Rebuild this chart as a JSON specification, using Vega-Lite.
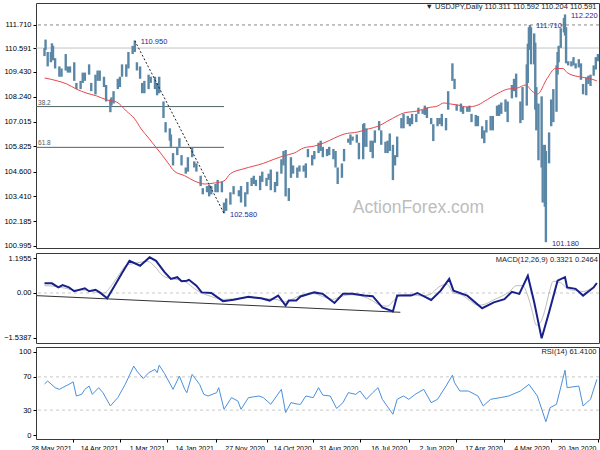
{
  "$schema": "https://vega.github.io/schema/vega-lite/v6.json",
  "autosize": {"type": "pad"},
  "padding": {"left": 3, "top": 2, "right": 2, "bottom": 2},
  "background": "white",
  "spacing": 2,
  "config": {
    "view": {"stroke": "#3a3a3a", "strokeWidth": 1},
    "axis": {"labelFont": "Liberation Sans", "labelFontSize": 7.5, "labelColor": "#000", "tickSize": 3, "tickColor": "#000", "domain": false, "grid": false, "title": null, "labelOverlap": false, "labelFlush": false, "labelPadding": 2},
    "title": {"font": "Liberation Sans", "fontSize": 7.5, "fontWeight": "normal", "color": "#222", "anchor": "end"}
  },
  "datasets": {
    "price": [
      {"d":"2020-01-20","h":110.30,"l":109.95},{"d":"2020-01-22","h":110.15,"l":109.55},{"d":"2020-01-24","h":109.75,"l":109.25},{"d":"2020-01-27","h":109.30,"l":108.75},{"d":"2020-01-29","h":109.25,"l":108.85},{"d":"2020-01-31","h":109.15,"l":108.30},
      {"d":"2020-02-03","h":108.85,"l":108.35},{"d":"2020-02-05","h":109.85,"l":109.05},{"d":"2020-02-07","h":110.05,"l":109.65},{"d":"2020-02-10","h":109.85,"l":109.60},{"d":"2020-02-12","h":110.15,"l":109.75},{"d":"2020-02-14","h":109.95,"l":109.70},{"d":"2020-02-17","h":109.95,"l":109.75},{"d":"2020-02-19","h":111.60,"l":109.85},{"d":"2020-02-20","h":112.22,"l":111.20},{"d":"2020-02-21","h":112.05,"l":111.35},{"d":"2020-02-24","h":111.55,"l":110.60},{"d":"2020-02-26","h":110.70,"l":109.90},{"d":"2020-02-27","h":110.40,"l":109.30},{"d":"2020-02-28","h":109.75,"l":107.50},
      {"d":"2020-03-02","h":108.60,"l":107.00},{"d":"2020-03-04","h":108.10,"l":106.80},{"d":"2020-03-06","h":106.50,"l":105.00},{"d":"2020-03-09","h":105.60,"l":101.18},{"d":"2020-03-10","h":105.90,"l":102.90},{"d":"2020-03-12","h":105.90,"l":103.10},{"d":"2020-03-13","h":108.25,"l":104.80},{"d":"2020-03-16","h":107.90,"l":105.15},{"d":"2020-03-18","h":108.70,"l":106.60},{"d":"2020-03-19","h":110.85,"l":107.60},{"d":"2020-03-20","h":111.30,"l":109.80},{"d":"2020-03-23","h":111.60,"l":109.80},{"d":"2020-03-24","h":111.71,"l":110.70},{"d":"2020-03-25","h":111.60,"l":110.50},{"d":"2020-03-26","h":110.80,"l":108.90},{"d":"2020-03-27","h":109.80,"l":107.80},{"d":"2020-03-31","h":108.70,"l":107.10},
      {"d":"2020-04-02","h":108.00,"l":106.95},{"d":"2020-04-06","h":109.35,"l":108.20},{"d":"2020-04-08","h":109.10,"l":108.50},{"d":"2020-04-10","h":108.80,"l":108.15},{"d":"2020-04-14","h":108.00,"l":107.00},{"d":"2020-04-16","h":108.10,"l":107.50},{"d":"2020-04-20","h":107.95,"l":107.40},{"d":"2020-04-22","h":107.85,"l":107.30},{"d":"2020-04-24","h":107.80,"l":107.30},{"d":"2020-04-28","h":107.30,"l":106.60},{"d":"2020-04-30","h":107.30,"l":106.60},
      {"d":"2020-05-04","h":107.10,"l":106.50},{"d":"2020-05-06","h":106.60,"l":105.98},{"d":"2020-05-08","h":106.80,"l":106.20},{"d":"2020-05-12","h":107.30,"l":106.80},{"d":"2020-05-14","h":107.35,"l":106.80},{"d":"2020-05-18","h":107.40,"l":107.00},{"d":"2020-05-20","h":107.80,"l":107.50},{"d":"2020-05-22","h":107.75,"l":107.50},{"d":"2020-05-26","h":107.75,"l":107.40},{"d":"2020-05-28","h":107.90,"l":107.50},
      {"d":"2020-06-01","h":107.85,"l":107.55},{"d":"2020-06-03","h":109.10,"l":108.60},{"d":"2020-06-05","h":109.85,"l":109.00},{"d":"2020-06-09","h":108.50,"l":107.60},{"d":"2020-06-11","h":107.20,"l":106.60},{"d":"2020-06-15","h":107.40,"l":106.80},{"d":"2020-06-17","h":107.20,"l":106.90},{"d":"2020-06-19","h":107.20,"l":106.80},{"d":"2020-06-23","h":106.90,"l":106.08},{"d":"2020-06-25","h":107.20,"l":106.90},{"d":"2020-06-29","h":107.70,"l":107.20},
      {"d":"2020-07-01","h":107.80,"l":107.35},{"d":"2020-07-03","h":107.60,"l":107.40},{"d":"2020-07-07","h":107.70,"l":107.40},{"d":"2020-07-09","h":107.40,"l":107.00},{"d":"2020-07-13","h":107.40,"l":106.90},{"d":"2020-07-15","h":107.20,"l":106.80},{"d":"2020-07-17","h":107.30,"l":106.90},{"d":"2020-07-21","h":107.40,"l":106.70},{"d":"2020-07-23","h":107.20,"l":106.70},{"d":"2020-07-27","h":106.30,"l":105.30},{"d":"2020-07-29","h":105.40,"l":104.90},{"d":"2020-07-31","h":105.90,"l":104.19},
      {"d":"2020-08-03","h":106.45,"l":105.60},{"d":"2020-08-05","h":106.10,"l":105.50},{"d":"2020-08-07","h":106.05,"l":105.50},{"d":"2020-08-11","h":106.60,"l":105.90},{"d":"2020-08-13","h":107.05,"l":106.60},{"d":"2020-08-17","h":106.60,"l":106.00},{"d":"2020-08-19","h":106.10,"l":105.25},{"d":"2020-08-21","h":106.10,"l":105.55},{"d":"2020-08-25","h":106.70,"l":105.80},{"d":"2020-08-27","h":106.95,"l":105.80},{"d":"2020-08-28","h":106.90,"l":105.20},
      {"d":"2020-09-01","h":106.00,"l":105.20},{"d":"2020-09-03","h":106.40,"l":106.00},{"d":"2020-09-07","h":106.30,"l":106.10},{"d":"2020-09-09","h":106.40,"l":105.90},{"d":"2020-09-11","h":106.20,"l":106.00},{"d":"2020-09-15","h":105.70,"l":105.10},{"d":"2020-09-17","h":105.00,"l":104.30},{"d":"2020-09-21","h":104.80,"l":104.00},{"d":"2020-09-23","h":105.60,"l":104.80},{"d":"2020-09-25","h":105.70,"l":105.20},{"d":"2020-09-29","h":105.80,"l":105.40},
      {"d":"2020-10-01","h":105.70,"l":105.35},{"d":"2020-10-05","h":105.80,"l":105.30},{"d":"2020-10-07","h":106.10,"l":105.60},{"d":"2020-10-09","h":106.00,"l":105.50},{"d":"2020-10-13","h":105.60,"l":105.20},{"d":"2020-10-15","h":105.40,"l":104.90},{"d":"2020-10-19","h":105.70,"l":105.30},{"d":"2020-10-21","h":105.00,"l":104.30},{"d":"2020-10-23","h":104.90,"l":104.60},{"d":"2020-10-27","h":104.90,"l":104.60},{"d":"2020-10-29","h":104.80,"l":104.30},
      {"d":"2020-11-02","h":104.90,"l":104.50},{"d":"2020-11-04","h":105.30,"l":104.30},{"d":"2020-11-06","h":103.80,"l":103.18},{"d":"2020-11-09","h":105.65,"l":103.40},{"d":"2020-11-11","h":105.60,"l":104.90},{"d":"2020-11-13","h":105.20,"l":104.50},{"d":"2020-11-17","h":104.60,"l":103.90},{"d":"2020-11-19","h":104.10,"l":103.60},{"d":"2020-11-23","h":104.70,"l":103.70},{"d":"2020-11-25","h":104.50,"l":104.20},{"d":"2020-11-27","h":104.30,"l":103.90},
      {"d":"2020-12-01","h":104.60,"l":104.10},{"d":"2020-12-03","h":104.40,"l":103.70},{"d":"2020-12-07","h":104.20,"l":103.90},{"d":"2020-12-09","h":104.40,"l":104.00},{"d":"2020-12-11","h":104.30,"l":103.90},{"d":"2020-12-15","h":104.10,"l":103.50},{"d":"2020-12-17","h":103.60,"l":102.90},{"d":"2020-12-21","h":103.90,"l":103.10},{"d":"2020-12-23","h":103.70,"l":103.40},{"d":"2020-12-28","h":103.90,"l":103.50},{"d":"2020-12-31","h":103.60,"l":103.00},
      {"d":"2021-01-04","h":103.30,"l":102.70},{"d":"2021-01-06","h":103.10,"l":102.58},{"d":"2021-01-08","h":104.10,"l":103.60},{"d":"2021-01-12","h":104.20,"l":103.60},{"d":"2021-01-14","h":104.00,"l":103.60},{"d":"2021-01-18","h":103.90,"l":103.50},{"d":"2021-01-20","h":103.95,"l":103.40},{"d":"2021-01-22","h":103.90,"l":103.60},{"d":"2021-01-26","h":103.80,"l":103.50},{"d":"2021-01-28","h":104.40,"l":103.90},
      {"d":"2021-02-01","h":105.00,"l":104.60},{"d":"2021-02-03","h":105.10,"l":104.80},{"d":"2021-02-05","h":105.77,"l":105.30},{"d":"2021-02-09","h":105.30,"l":104.60},{"d":"2021-02-11","h":104.80,"l":104.50},{"d":"2021-02-15","h":105.40,"l":104.90},{"d":"2021-02-17","h":106.22,"l":105.80},{"d":"2021-02-19","h":105.80,"l":105.40},{"d":"2021-02-23","h":105.50,"l":104.90},{"d":"2021-02-25","h":106.40,"l":105.80},{"d":"2021-02-26","h":106.70,"l":106.10},
      {"d":"2021-03-02","h":107.00,"l":106.50},{"d":"2021-03-04","h":108.00,"l":107.20},{"d":"2021-03-08","h":109.20,"l":108.40},{"d":"2021-03-10","h":108.90,"l":108.30},{"d":"2021-03-12","h":109.20,"l":108.60},{"d":"2021-03-16","h":109.20,"l":108.90},{"d":"2021-03-18","h":109.30,"l":108.60},{"d":"2021-03-22","h":109.00,"l":108.40},{"d":"2021-03-24","h":108.90,"l":108.40},{"d":"2021-03-26","h":109.70,"l":109.10},{"d":"2021-03-29","h":109.90,"l":109.50},{"d":"2021-03-31","h":110.95,"l":110.40},
      {"d":"2021-04-02","h":110.70,"l":110.30},{"d":"2021-04-06","h":110.40,"l":109.60},{"d":"2021-04-08","h":109.80,"l":109.20},{"d":"2021-04-12","h":109.80,"l":109.20},{"d":"2021-04-14","h":109.20,"l":108.70},{"d":"2021-04-16","h":109.10,"l":108.60},{"d":"2021-04-20","h":108.50,"l":107.90},{"d":"2021-04-22","h":108.20,"l":107.80},{"d":"2021-04-23","h":108.10,"l":107.48},{"d":"2021-04-27","h":108.80,"l":108.00},{"d":"2021-04-29","h":109.20,"l":108.70},
      {"d":"2021-05-03","h":109.50,"l":109.00},{"d":"2021-05-05","h":109.50,"l":109.00},{"d":"2021-05-07","h":109.30,"l":108.34},{"d":"2021-05-11","h":108.90,"l":108.50},{"d":"2021-05-13","h":109.80,"l":109.30},{"d":"2021-05-17","h":109.40,"l":109.00},{"d":"2021-05-19","h":109.40,"l":108.90},{"d":"2021-05-21","h":109.00,"l":108.60},{"d":"2021-05-25","h":108.90,"l":108.60},{"d":"2021-05-27","h":109.90,"l":109.00},{"d":"2021-05-31","h":109.70,"l":109.40},
      {"d":"2021-06-02","h":109.70,"l":109.40},{"d":"2021-06-04","h":110.30,"l":109.50},{"d":"2021-06-08","h":109.60,"l":109.20},{"d":"2021-06-10","h":109.70,"l":109.20},{"d":"2021-06-14","h":110.10,"l":109.60},{"d":"2021-06-16","h":110.70,"l":110.00},{"d":"2021-06-17","h":110.82,"l":110.00},{"d":"2021-06-18","h":110.40,"l":109.90},{"d":"2021-06-21","h":110.40,"l":109.70},{"d":"2021-06-23","h":111.00,"l":110.50},{"d":"2021-06-24","h":110.59,"l":110.20}
    ],
    "ma": [
      {"d":"2020-01-21","v":109.0},{"d":"2020-01-30","v":109.14},{"d":"2020-02-07","v":109.2},{"d":"2020-02-18","v":109.4},{"d":"2020-02-22","v":109.6},{"d":"2020-02-29","v":109.6},{"d":"2020-03-08","v":109.1},{"d":"2020-03-17","v":108.36},{"d":"2020-03-22","v":108.5},{"d":"2020-03-28","v":108.8},{"d":"2020-04-05","v":108.65},{"d":"2020-04-14","v":108.6},{"d":"2020-04-23","v":108.4},{"d":"2020-05-03","v":108.1},{"d":"2020-05-12","v":107.83},{"d":"2020-05-22","v":107.73},{"d":"2020-05-31","v":107.83},{"d":"2020-06-07","v":107.88},{"d":"2020-06-13","v":107.93},{"d":"2020-06-19","v":107.78},{"d":"2020-06-28","v":107.7},{"d":"2020-07-08","v":107.54},{"d":"2020-07-21","v":107.44},{"d":"2020-07-27","v":107.3},{"d":"2020-08-05","v":107.05},{"d":"2020-08-14","v":106.8},{"d":"2020-08-23","v":106.67},{"d":"2020-09-02","v":106.52},{"d":"2020-09-15","v":106.42},{"d":"2020-09-24","v":106.23},{"d":"2020-10-04","v":105.99},{"d":"2020-10-13","v":105.84},{"d":"2020-10-23","v":105.75},{"d":"2020-11-01","v":105.5},{"d":"2020-11-11","v":105.36},{"d":"2020-11-20","v":105.2},{"d":"2020-11-30","v":105.0},{"d":"2020-12-09","v":104.87},{"d":"2020-12-19","v":104.73},{"d":"2020-12-31","v":104.5},{"d":"2021-01-06","v":104.15},{"d":"2021-01-15","v":104.05},{"d":"2021-01-24","v":104.0},{"d":"2021-02-03","v":104.15},{"d":"2021-02-12","v":104.4},{"d":"2021-02-22","v":104.63},{"d":"2021-02-27","v":104.97},{"d":"2021-03-06","v":105.45},{"d":"2021-03-12","v":105.84},{"d":"2021-03-18","v":106.23},{"d":"2021-03-25","v":106.67},{"d":"2021-03-31","v":107.15},{"d":"2021-04-08","v":107.54},{"d":"2021-04-17","v":107.97},{"d":"2021-04-26","v":108.07},{"d":"2021-05-06","v":108.27},{"d":"2021-05-15","v":108.4},{"d":"2021-05-25","v":108.6},{"d":"2021-06-03","v":108.85},{"d":"2021-06-12","v":109.0},{"d":"2021-06-24","v":109.14}
    ],
    "macd": [
      {"d":"2020-01-21","m":0.34},{"d":"2020-01-24","m":0.19},{"d":"2020-02-03","m":-0.09},{"d":"2020-02-10","m":0.14},{"d":"2020-02-18","m":0.19},{"d":"2020-02-20","m":0.54},{"d":"2020-02-27","m":0.42},{"d":"2020-03-06","m":-0.66},{"d":"2020-03-13","m":-1.55},{"d":"2020-03-20","m":-0.32},{"d":"2020-03-26","m":0.59},{"d":"2020-04-03","m":-0.03},{"d":"2020-04-10","m":0.04},{"d":"2020-04-17","m":-0.21},{"d":"2020-04-27","m":-0.32},{"d":"2020-05-08","m":-0.52},{"d":"2020-05-22","m":-0.09},{"d":"2020-06-04","m":0.08},{"d":"2020-06-08","m":0.48},{"d":"2020-06-16","m":0.08},{"d":"2020-06-25","m":-0.24},{"d":"2020-07-08","m":0.0},{"d":"2020-07-14","m":-0.09},{"d":"2020-07-27","m":-0.09},{"d":"2020-07-31","m":-0.63},{"d":"2020-08-10","m":-0.49},{"d":"2020-08-19","m":-0.11},{"d":"2020-08-27","m":-0.09},{"d":"2020-09-07","m":-0.03},{"d":"2020-09-16","m":-0.03},{"d":"2020-09-24","m":-0.34},{"d":"2020-10-05","m":-0.03},{"d":"2020-10-13","m":0.02},{"d":"2020-10-26","m":-0.12},{"d":"2020-10-30","m":-0.26},{"d":"2020-11-06","m":-0.26},{"d":"2020-11-09","m":-0.43},{"d":"2020-11-16","m":-0.09},{"d":"2020-11-24","m":-0.26},{"d":"2020-12-02","m":-0.18},{"d":"2020-12-14","m":-0.13},{"d":"2020-12-28","m":-0.23},{"d":"2021-01-07","m":-0.28},{"d":"2021-01-18","m":0.0},{"d":"2021-01-27","m":0.02},{"d":"2021-02-01","m":0.25},{"d":"2021-02-08","m":0.45},{"d":"2021-02-10","m":0.42},{"d":"2021-02-15","m":0.40},{"d":"2021-02-19","m":0.54},{"d":"2021-02-25","m":0.48},{"d":"2021-03-03","m":0.71},{"d":"2021-03-11","m":1.10},{"d":"2021-03-17","m":1.22},{"d":"2021-03-26","m":0.93},{"d":"2021-04-05","m":1.10},{"d":"2021-04-12","m":0.68},{"d":"2021-04-19","m":0.25},{"d":"2021-04-26","m":-0.18},{"d":"2021-05-03","m":0.02},{"d":"2021-05-07","m":0.11},{"d":"2021-05-13","m":0.06},{"d":"2021-05-17","m":0.16},{"d":"2021-05-27","m":0.06},{"d":"2021-06-01","m":0.19},{"d":"2021-06-07","m":0.27},{"d":"2021-06-11","m":0.19},{"d":"2021-06-17","m":0.33},{"d":"2021-06-24","m":0.33}
    ],
    "signal": [
      {"d":"2020-01-21","s":0.30},{"d":"2020-01-27","s":0.15},{"d":"2020-02-03","s":0.05},{"d":"2020-02-10","s":0.08},{"d":"2020-02-18","s":0.15},{"d":"2020-02-24","s":0.35},{"d":"2020-03-02","s":0.40},{"d":"2020-03-06","s":0.0},{"d":"2020-03-10","s":-0.6},{"d":"2020-03-14","s":-1.0},{"d":"2020-03-18","s":-1.1},{"d":"2020-03-22","s":-0.6},{"d":"2020-03-26","s":-0.1},{"d":"2020-03-31","s":0.25},{"d":"2020-04-06","s":0.25},{"d":"2020-04-12","s":0.05},{"d":"2020-04-20","s":-0.12},{"d":"2020-04-28","s":-0.25},{"d":"2020-05-05","s":-0.38},{"d":"2020-05-12","s":-0.42},{"d":"2020-05-20","s":-0.25},{"d":"2020-05-28","s":-0.05},{"d":"2020-06-04","s":0.0},{"d":"2020-06-10","s":0.30},{"d":"2020-06-18","s":0.20},{"d":"2020-06-26","s":-0.05},{"d":"2020-07-05","s":-0.1},{"d":"2020-07-14","s":-0.05},{"d":"2020-07-22","s":-0.06},{"d":"2020-07-30","s":-0.25},{"d":"2020-08-05","s":-0.45},{"d":"2020-08-12","s":-0.42},{"d":"2020-08-20","s":-0.25},{"d":"2020-08-28","s":-0.12},{"d":"2020-09-08","s":-0.06},{"d":"2020-09-18","s":-0.12},{"d":"2020-09-26","s":-0.22},{"d":"2020-10-05","s":-0.12},{"d":"2020-10-14","s":-0.02},{"d":"2020-10-26","s":-0.08},{"d":"2020-11-02","s":-0.2},{"d":"2020-11-10","s":-0.3},{"d":"2020-11-18","s":-0.22},{"d":"2020-11-26","s":-0.2},{"d":"2020-12-05","s":-0.18},{"d":"2020-12-16","s":-0.16},{"d":"2020-12-28","s":-0.2},{"d":"2021-01-08","s":-0.22},{"d":"2021-01-18","s":-0.12},{"d":"2021-01-27","s":0.0},{"d":"2021-02-03","s":0.15},{"d":"2021-02-10","s":0.35},{"d":"2021-02-18","s":0.45},{"d":"2021-02-26","s":0.50},{"d":"2021-03-05","s":0.60},{"d":"2021-03-12","s":0.90},{"d":"2021-03-19","s":1.08},{"d":"2021-03-26","s":1.05},{"d":"2021-04-02","s":1.0},{"d":"2021-04-08","s":0.95},{"d":"2021-04-15","s":0.62},{"d":"2021-04-22","s":0.25},{"d":"2021-04-29","s":0.0},{"d":"2021-05-06","s":0.02},{"d":"2021-05-13","s":0.08},{"d":"2021-05-20","s":0.10},{"d":"2021-05-27","s":0.10},{"d":"2021-06-03","s":0.15},{"d":"2021-06-10","s":0.20},{"d":"2021-06-17","s":0.24},{"d":"2021-06-24","s":0.25}
    ],
    "rsi": [
      {"d":"2020-01-21","r":67},{"d":"2020-01-27","r":43},{"d":"2020-02-03","r":35},{"d":"2020-02-07","r":59},{"d":"2020-02-18","r":57},{"d":"2020-02-20","r":78},{"d":"2020-02-28","r":37},{"d":"2020-03-05","r":33},{"d":"2020-03-09","r":16},{"d":"2020-03-17","r":47},{"d":"2020-03-25","r":61},{"d":"2020-04-02","r":53},{"d":"2020-04-13","r":47},{"d":"2020-04-21","r":45},{"d":"2020-04-30","r":43},{"d":"2020-05-07","r":35},{"d":"2020-05-12","r":47},{"d":"2020-05-21","r":53},{"d":"2020-05-29","r":53},{"d":"2020-06-03","r":63},{"d":"2020-06-05","r":72},{"d":"2020-06-11","r":59},{"d":"2020-06-19","r":43},{"d":"2020-06-25","r":39},{"d":"2020-07-02","r":55},{"d":"2020-07-10","r":49},{"d":"2020-07-16","r":43},{"d":"2020-07-21","r":47},{"d":"2020-07-27","r":43},{"d":"2020-07-31","r":25},{"d":"2020-08-10","r":43},{"d":"2020-08-14","r":57},{"d":"2020-08-19","r":51},{"d":"2020-08-25","r":43},{"d":"2020-08-31","r":53},{"d":"2020-09-04","r":49},{"d":"2020-09-11","r":51},{"d":"2020-09-16","r":39},{"d":"2020-09-22","r":32},{"d":"2020-09-28","r":47},{"d":"2020-10-05","r":48},{"d":"2020-10-09","r":57},{"d":"2020-10-14","r":45},{"d":"2020-10-21","r":47},{"d":"2020-10-26","r":37},{"d":"2020-10-28","r":37},{"d":"2020-11-04","r":39},{"d":"2020-11-09","r":27},{"d":"2020-11-13","r":55},{"d":"2020-11-23","r":37},{"d":"2020-11-30","r":45},{"d":"2020-12-04","r":47},{"d":"2020-12-14","r":45},{"d":"2020-12-21","r":31},{"d":"2020-12-24","r":41},{"d":"2020-12-30","r":45},{"d":"2021-01-06","r":31},{"d":"2021-01-11","r":57},{"d":"2021-01-13","r":51},{"d":"2021-01-21","r":47},{"d":"2021-01-25","r":49},{"d":"2021-01-29","r":61},{"d":"2021-02-05","r":73},{"d":"2021-02-10","r":51},{"d":"2021-02-12","r":55},{"d":"2021-02-17","r":71},{"d":"2021-02-23","r":55},{"d":"2021-03-03","r":74},{"d":"2021-03-08","r":84},{"d":"2021-03-10","r":75},{"d":"2021-03-12","r":79},{"d":"2021-03-18","r":75},{"d":"2021-03-23","r":68},{"d":"2021-03-29","r":77},{"d":"2021-04-01","r":83},{"d":"2021-04-09","r":61},{"d":"2021-04-16","r":45},{"d":"2021-04-23","r":35},{"d":"2021-04-30","r":51},{"d":"2021-05-04","r":57},{"d":"2021-05-10","r":49},{"d":"2021-05-13","r":59},{"d":"2021-05-17","r":55},{"d":"2021-05-20","r":49},{"d":"2021-05-25","r":47},{"d":"2021-05-28","r":64},{"d":"2021-06-01","r":61},{"d":"2021-06-07","r":57},{"d":"2021-06-10","r":55},{"d":"2021-06-14","r":57},{"d":"2021-06-21","r":65},{"d":"2021-06-24","r":61.41}
    ]
  },
  "vconcat": [
    {
      "width": 563,
      "height": 245,
      "title": {"text": "▼ USDJPY,Daily  110.311 110.592 110.204 110.591", "offset": -7, "dx": -3},
      "layer": [
        {
          "data": {"values": [{"d": "2020-07-07", "p": 102.84, "t": "ActionForex.com"}]},
          "mark": {"type": "text", "font": "Liberation Sans", "fontSize": 17.5, "color": "#bdbdbd", "align": "center", "baseline": "middle"},
          "encoding": {
            "x": {"field": "d", "type": "temporal", "scale": {"type": "utc", "domain": [{"year": 2020, "month": 1, "date": 19, "utc": true}, {"year": 2021, "month": 7, "date": 2, "utc": true}], "reverse": true}, "axis": null},
            "y": {"field": "p", "type": "quantitative", "scale": {"domain": [100.898, 112.774], "nice": false, "zero": false},
                  "axis": {"values": [100.995, 102.185, 103.41, 104.6, 105.825, 107.015, 108.24, 109.43, 110.591, 111.71], "tickCount": 30, "format": ".3f", "labelOverlap": false, "labelBound": false}},
            "text": {"field": "t"}
          }
        },
        {
          "data": {"values": [{"p": 111.71}]},
          "mark": {"type": "rule", "color": "#8a8a8a", "strokeDash": [3, 3], "strokeWidth": 1},
          "encoding": {"y": {"field": "p", "type": "quantitative"}}
        },
        {
          "data": {"values": [{"p": 110.591}]},
          "mark": {"type": "rule", "color": "#c4c4c4", "strokeWidth": 1},
          "encoding": {"y": {"field": "p", "type": "quantitative"}}
        },
        {
          "data": {"values": [{"d1": "2021-01-06", "d2": "2021-07-02", "p": 107.753}, {"d1": "2021-01-06", "d2": "2021-07-02", "p": 105.777}]},
          "mark": {"type": "rule", "color": "#4e6464", "strokeWidth": 1},
          "encoding": {
            "x": {"field": "d1", "type": "temporal"},
            "x2": {"field": "d2"},
            "y": {"field": "p", "type": "quantitative"}
          }
        },
        {
          "data": {"values": [{"d": "2021-07-01", "p": 107.753, "lab": "38.2"}, {"d": "2021-07-01", "p": 105.777, "lab": "61.8"}]},
          "mark": {"type": "text", "font": "Liberation Sans", "fontSize": 6.5, "color": "#555", "align": "left", "baseline": "bottom", "dx": 1, "dy": -1},
          "encoding": {
            "x": {"field": "d", "type": "temporal"},
            "y": {"field": "p", "type": "quantitative"},
            "text": {"field": "lab"}
          }
        },
        {
          "data": {"name": "price"},
          "mark": {"type": "rule", "color": "#5b87a6", "strokeWidth": 2.4},
          "encoding": {
            "x": {"field": "d", "type": "temporal"},
            "y": {"field": "l", "type": "quantitative"},
            "y2": {"field": "h"}
          }
        },
        {
          "data": {"name": "ma"},
          "mark": {"type": "line", "color": "#e5484d", "strokeWidth": 1, "interpolate": "monotone"},
          "encoding": {
            "x": {"field": "d", "type": "temporal"},
            "y": {"field": "v", "type": "quantitative"}
          }
        },
        {
          "data": {"values": [{"d1": "2021-03-31", "p1": 110.95, "d2": "2021-01-06", "p2": 102.58}]},
          "mark": {"type": "rule", "color": "#222", "strokeDash": [2, 2], "strokeWidth": 1},
          "encoding": {
            "x": {"field": "d1", "type": "temporal"},
            "x2": {"field": "d2"},
            "y": {"field": "p1", "type": "quantitative"},
            "y2": {"field": "p2"}
          }
        },
        {
          "data": {"values": [{"d": "2021-03-31", "p": 110.95, "t": "110.950"}, {"d": "2021-01-06", "p": 102.58, "t": "102.580"}, {"d": "2020-03-24", "p": 111.71, "t": "111.710"}, {"d": "2020-02-20", "p": 112.22, "t": "112.220"}, {"d": "2020-03-09", "p": 101.18, "t": "101.180"}]},
          "mark": {"type": "text", "font": "Liberation Sans", "fontSize": 7.5, "color": "#26269a", "align": "left", "baseline": "middle", "dx": 6, "dy": 1.5, "clip": true},
          "encoding": {
            "x": {"field": "d", "type": "temporal"},
            "y": {"field": "p", "type": "quantitative"},
            "text": {"field": "t"}
          }
        }
      ]
    },
    {
      "width": 563,
      "height": 90,
      "title": {"text": "MACD(12,26,9) 0.3321 0.2464", "offset": -10, "dx": -3},
      "layer": [
        {
          "data": {"values": [{"z": 0}]},
          "mark": {"type": "rule", "color": "#c8c8c8", "strokeDash": [3, 3], "strokeWidth": 1},
          "encoding": {
            "y": {"field": "z", "type": "quantitative", "scale": {"domain": [-1.7096, 1.3664], "nice": false, "zero": false},
                  "axis": {"values": [1.1955, 0, -1.5387], "tickCount": 30, "labelExpr": "datum.value == 0 ? '0.00' : format(datum.value, '.4f')", "labelOverlap": false, "labelBound": false}}
          }
        },
        {
          "data": {"name": "signal"},
          "mark": {"type": "line", "color": "#bdbdbd", "strokeWidth": 1, "interpolate": "monotone"},
          "encoding": {
            "x": {"field": "d", "type": "temporal", "scale": {"type": "utc", "domain": [{"year": 2020, "month": 1, "date": 19, "utc": true}, {"year": 2021, "month": 7, "date": 2, "utc": true}], "reverse": true}, "axis": null},
            "y": {"field": "s", "type": "quantitative"}
          }
        },
        {
          "data": {"values": [{"d1": "2021-07-02", "v1": -0.09, "d2": "2020-07-24", "v2": -0.66}]},
          "mark": {"type": "rule", "color": "#333", "strokeWidth": 1},
          "encoding": {
            "x": {"field": "d1", "type": "temporal"},
            "x2": {"field": "d2"},
            "y": {"field": "v1", "type": "quantitative"},
            "y2": {"field": "v2"}
          }
        },
        {
          "data": {"name": "macd"},
          "mark": {"type": "line", "color": "#18208a", "strokeWidth": 2},
          "encoding": {
            "x": {"field": "d", "type": "temporal"},
            "y": {"field": "m", "type": "quantitative"}
          }
        }
      ]
    },
    {
      "width": 563,
      "height": 92,
      "title": {"text": "RSI(14) 61.4100", "offset": -8, "dx": -3},
      "layer": [
        {
          "data": {"values": [{"lv": 70}, {"lv": 30}]},
          "mark": {"type": "rule", "color": "#c8c8c8", "strokeDash": [3, 3], "strokeWidth": 1},
          "encoding": {
            "y": {"field": "lv", "type": "quantitative", "scale": {"domain": [-4.8, 106], "nice": false, "zero": false},
                  "axis": {"values": [100, 70, 30, 0], "tickCount": 30, "format": "d", "labelOverlap": false, "labelBound": false}}
          }
        },
        {
          "data": {"name": "rsi"},
          "mark": {"type": "line", "color": "#4a90dd", "strokeWidth": 1},
          "encoding": {
            "x": {"field": "d", "type": "temporal", "scale": {"type": "utc", "domain": [{"year": 2020, "month": 1, "date": 19, "utc": true}, {"year": 2021, "month": 7, "date": 2, "utc": true}], "reverse": true},
                  "axis": {"orient": "bottom", "tickCount": 40, "values": [
                    {"year": 2020, "month": 1, "date": 20, "utc": true}, {"year": 2020, "month": 3, "date": 4, "utc": true}, {"year": 2020, "month": 4, "date": 17, "utc": true}, {"year": 2020, "month": 6, "date": 2, "utc": true}, {"year": 2020, "month": 7, "date": 16, "utc": true}, {"year": 2020, "month": 8, "date": 31, "utc": true}, {"year": 2020, "month": 10, "date": 14, "utc": true}, {"year": 2020, "month": 11, "date": 27, "utc": true}, {"year": 2021, "month": 1, "date": 14, "utc": true}, {"year": 2021, "month": 3, "date": 1, "utc": true}, {"year": 2021, "month": 4, "date": 14, "utc": true}, {"year": 2021, "month": 5, "date": 28, "utc": true}],
                    "labelExpr": "utcFormat(datum.value, '%-d %b %Y')", "labelAlign": "right", "labelOffset": -2, "labelFontSize": 7, "labelOverlap": false}},
            "y": {"field": "r", "type": "quantitative"}
          }
        }
      ]
    }
  ]
}
